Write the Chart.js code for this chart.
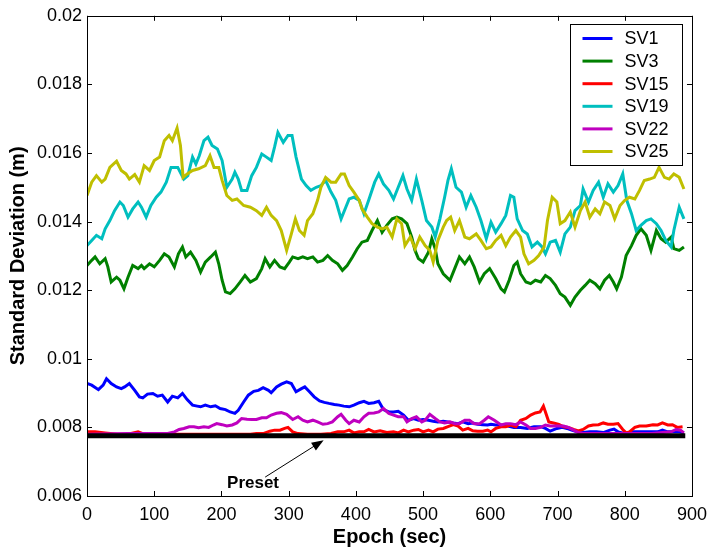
<!DOCTYPE html>
<html>
<head>
<meta charset="utf-8">
<title>Standard Deviation vs Epoch</title>
<script src="https://cdn.jsdelivr.net/npm/chart.js@4.4.1/dist/chart.umd.min.js"></script>
<style>
  html, body { margin: 0; padding: 0; background: #fff; }
  #wrap { width: 715px; height: 555px; position: relative; }
</style>
</head>
<body>
<div id="wrap"><canvas id="sdChart"></canvas></div>
<script>
// epochs (sec) and standard deviations (m)
const sv1T = [0,7,17,24,29,36,44,51,56,63,71,78,83,90,98,105,112,120,127,135,142,149,157,164,169,176,184,191,198,206,213,220,225,233,240,248,255,262,270,274,282,289,297,
  304,311,319,324,331,338,346,353,360,368,375,382,390,397,405,412,419,427,434,441,449,456,463,471,478,486,493,500,508,515,522,530,537,545,552,559,567,574,581,589,596,
  601,608,616,626,635,645,655,665,675,682,689,699,707,714,721,729,738,748,758,768,778,784,790,800,810,819,829,839,849,856,864,871,881,888];
const sv1 = [0.00928,0.00923,0.00910,0.00923,0.00942,0.00928,0.00918,0.00913,0.00918,0.00928,0.00908,0.00889,0.00886,0.00897,0.00899,0.00891,0.00894,0.00874,0.00891,0.00886,0.00899,0.00881,0.00865,0.00862,0.00860,0.00865,0.00860,0.00863,0.00855,0.00852,0.00845,0.00841,0.00850,0.00874,0.00894,0.00905,0.00908,0.00916,0.00908,0.00901,0.00918,0.00926,0.00933,
  0.00928,0.00904,0.00913,0.00918,0.00904,0.00889,0.00877,0.00873,0.00870,0.00867,0.00865,0.00862,0.00860,0.00865,0.00872,0.00876,0.00870,0.00872,0.00876,0.00852,0.00845,0.00845,0.00847,0.00836,0.00821,0.00826,0.00821,0.00823,0.00821,0.00818,0.00816,0.00818,0.00816,0.00813,0.00811,0.00816,0.00811,0.00813,0.00809,0.00808,0.00807,
  0.00809,0.00807,0.00807,0.00804,0.00800,0.00800,0.00797,0.00802,0.00802,0.00797,0.00789,0.00797,0.00800,0.00797,0.00792,0.00787,0.00785,0.00787,0.00787,0.00785,0.00792,0.00795,0.00787,0.00782,0.00787,0.00787,0.00787,0.00787,0.00787,0.00792,0.00787,0.00787,0.00787,0.00784];

const sv3T = [0,7,12,19,27,31,36,44,49,55,61,68,76,81,85,93,100,108,115,122,130,136,142,147,154,162,169,176,184,191,196,201,206,213,220,228,235,243,252,260,265,272,279,287,294,
  301,306,314,321,328,336,343,351,358,365,373,380,387,395,402,409,417,424,432,439,446,454,461,468,476,483,488,493,500,508,513,518,522,530,540,547,554,562,569,576,584,591,599,
  608,616,621,628,635,640,645,653,660,667,675,682,689,697,704,711,719,726,734,741,748,756,763,770,777,783,788,795,802,810,817,824,832,839,847,854,861,869,873,881,888];
const sv3 = [0.01272,0.01287,0.01297,0.01277,0.01292,0.01268,0.01224,0.01238,0.01229,0.01204,0.01238,0.01272,0.01263,0.01272,0.01263,0.01277,0.01268,0.01287,0.01306,0.01297,0.01268,0.01306,0.01326,0.01297,0.01311,0.01287,0.01253,0.01282,0.01297,0.01311,0.01277,0.01229,0.01195,0.01190,0.01204,0.01224,0.01243,0.01224,0.01234,0.01263,0.01292,0.01268,0.01287,0.01268,0.01263,
  0.01282,0.01297,0.01292,0.01297,0.01292,0.01297,0.01282,0.01287,0.01301,0.01287,0.01277,0.01258,0.01272,0.01297,0.01321,0.01340,0.01345,0.01374,0.01403,0.01369,0.01389,0.01408,0.01413,0.01408,0.01394,0.01355,0.01316,0.01292,0.01282,0.01311,0.01350,0.01321,0.01277,0.01248,0.01229,0.01263,0.01297,0.01277,0.01297,0.01268,0.01224,0.01248,0.01263,
  0.01234,0.01204,0.01195,0.01229,0.01272,0.01282,0.01248,0.01224,0.01219,0.01229,0.01224,0.01243,0.01234,0.01214,0.01190,0.01180,0.01156,0.01180,0.01200,0.01214,0.01229,0.01219,0.01204,0.01229,0.01243,0.01224,0.01204,0.01238,0.01301,0.01330,0.01360,0.01379,0.01360,0.01316,0.01374,0.01350,0.01340,0.01355,0.01321,0.01316,0.01326];

const sv15T = [0,12,27,46,61,76,83,95,120,144,169,193,218,243,252,262,272,279,287,294,299,
  306,314,328,348,363,373,382,390,397,405,412,419,427,436,446,456,463,471,478,486,493,500,508,515,522,530,537,545,552,559,567,574,581,589,596,
  601,608,616,623,630,638,645,653,660,667,674,679,682,687,694,702,709,716,724,731,738,746,753,761,768,775,783,790,797,802,807,815,822,832,842,849,856,864,871,878,886];
const sv15 = [0.00787,0.00787,0.00784,0.00780,0.00780,0.00787,0.00782,0.00780,0.00780,0.00780,0.00780,0.00780,0.00780,0.00780,0.00782,0.00782,0.00789,0.00792,0.00792,0.00797,0.00800,
  0.00787,0.00782,0.00780,0.00780,0.00782,0.00787,0.00787,0.00792,0.00784,0.00787,0.00787,0.00794,0.00787,0.00790,0.00785,0.00787,0.00784,0.00792,0.00787,0.00792,0.00794,0.00787,0.00792,0.00787,0.00795,0.00797,0.00802,0.00808,0.00804,0.00792,0.00797,0.00790,0.00789,0.00789,0.00792,
  0.00787,0.00797,0.00802,0.00802,0.00807,0.00802,0.00821,0.00826,0.00836,0.00842,0.00845,0.00862,0.00845,0.00816,0.00813,0.00809,0.00802,0.00800,0.00794,0.00790,0.00794,0.00804,0.00807,0.00808,0.00813,0.00809,0.00809,0.00811,0.00794,0.00784,0.00787,0.00800,0.00804,0.00804,0.00808,0.00807,0.00813,0.00807,0.00808,0.00800,0.00802];

const sv19T = [0,7,14,22,27,34,41,49,54,61,68,76,81,88,95,103,110,118,125,135,144,150,157,162,167,174,180,186,194,201,208,216,220,225,230,238,245,252,260,267,274,279,284,292,299,
  305,311,319,326,333,341,348,355,363,370,378,385,390,397,405,412,419,428,434,441,449,456,463,470,476,483,490,498,505,513,518,525,532,537,542,549,557,564,571,579,586,594,
  601,608,616,623,630,635,640,648,655,662,670,677,682,689,697,704,711,719,726,734,738,746,753,761,768,775,783,790,797,803,810,817,824,832,839,847,854,861,869,873,881,888];
const sv19 = [0.01330,0.01345,0.01360,0.01350,0.01379,0.01403,0.01432,0.01457,0.01447,0.01413,0.01437,0.01457,0.01442,0.01413,0.01447,0.01471,0.01486,0.01515,0.01558,0.01558,0.01524,0.01534,0.01588,0.01568,0.01592,0.01636,0.01646,0.01622,0.01612,0.01578,0.01500,0.01524,0.01544,0.01524,0.01491,0.01491,0.01534,0.01558,0.01597,0.01588,0.01578,0.01617,0.01660,0.01631,0.01651,
  0.01651,0.01588,0.01524,0.01505,0.01491,0.01500,0.01505,0.01520,0.01486,0.01462,0.01408,0.01442,0.01466,0.01471,0.01462,0.01423,0.01462,0.01515,0.01539,0.01510,0.01491,0.01466,0.01500,0.01534,0.01495,0.01462,0.01524,0.01462,0.01403,0.01384,0.01355,0.01408,0.01471,0.01520,0.01554,0.01500,0.01486,0.01442,0.01476,0.01442,0.01403,0.01350,
  0.01398,0.01369,0.01394,0.01418,0.01476,0.01471,0.01408,0.01374,0.01364,0.01326,0.01340,0.01326,0.01306,0.01340,0.01345,0.01311,0.01364,0.01384,0.01432,0.01447,0.01495,0.01457,0.01491,0.01515,0.01471,0.01510,0.01486,0.01505,0.01539,0.01462,0.01423,0.01374,0.01389,0.01403,0.01408,0.01394,0.01374,0.01345,0.01326,0.01374,0.01442,0.01408];

const sv22T = [0,61,120,130,137,144,152,159,166,174,181,188,193,201,208,216,223,230,238,245,252,260,267,274,282,289,297,
  306,314,321,328,336,343,351,358,365,373,378,385,390,397,405,412,419,427,434,441,449,456,463,471,476,483,490,498,503,510,518,525,532,540,547,554,562,569,576,584,591,597,
  606,616,623,630,638,645,653,660,667,675,682,689,699,709,716,724,731,738,760,800,840,869,876,883,888];
const sv22 = [0.00780,0.00782,0.00782,0.00787,0.00794,0.00797,0.00802,0.00802,0.00799,0.00802,0.00800,0.00807,0.00811,0.00808,0.00804,0.00807,0.00813,0.00826,0.00824,0.00823,0.00823,0.00828,0.00828,0.00836,0.00841,0.00843,0.00838,
  0.00823,0.00831,0.00821,0.00816,0.00821,0.00816,0.00809,0.00811,0.00816,0.00831,0.00838,0.00821,0.00811,0.00821,0.00816,0.00831,0.00841,0.00842,0.00845,0.00855,0.00841,0.00836,0.00831,0.00831,0.00816,0.00826,0.00831,0.00816,0.00821,0.00838,0.00826,0.00816,0.00813,0.00816,0.00811,0.00811,0.00821,0.00821,0.00811,0.00811,0.00821,0.00831,
  0.00821,0.00807,0.00811,0.00811,0.00808,0.00816,0.00807,0.00797,0.00797,0.00800,0.00807,0.00804,0.00804,0.00804,0.00800,0.00792,0.00785,0.00782,0.00782,0.00782,0.00782,0.00787,0.00794,0.00792,0.00784];

const sv25T = [0,7,14,22,27,34,44,51,58,63,71,78,85,93,100,108,115,122,127,134,139,143,149,157,166,176,183,189,196,201,208,216,223,233,243,252,260,267,274,282,289,297,
  304,310,316,323,328,336,343,348,355,363,370,378,383,390,397,405,409,417,424,432,439,446,454,461,468,473,481,488,495,503,510,515,522,530,535,541,547,554,562,569,579,586,594,
  601,608,616,623,630,638,645,650,657,665,672,680,685,692,699,704,711,719,726,734,741,748,756,763,770,778,785,793,800,807,815,822,829,837,844,851,859,866,873,881,888];
const sv25 = [0.01476,0.01515,0.01534,0.01515,0.01524,0.01558,0.01576,0.01549,0.01539,0.01524,0.01537,0.01515,0.01563,0.01549,0.01578,0.01588,0.01636,0.01651,0.01636,0.01673,0.01622,0.01529,0.01539,0.01549,0.01554,0.01563,0.01592,0.01558,0.01558,0.01520,0.01476,0.01462,0.01466,0.01447,0.01442,0.01432,0.01418,0.01442,0.01418,0.01403,0.01374,0.01316,
  0.01364,0.01408,0.01374,0.01360,0.01403,0.01423,0.01462,0.01500,0.01529,0.01515,0.01515,0.01539,0.01539,0.01505,0.01486,0.01462,0.01437,0.01413,0.01394,0.01384,0.01379,0.01384,0.01355,0.01408,0.01394,0.01330,0.01355,0.01321,0.01355,0.01330,0.01316,0.01282,0.01345,0.01384,0.01403,0.01413,0.01374,0.01403,0.01355,0.01350,0.01364,0.01345,0.01321,
  0.01326,0.01345,0.01360,0.01330,0.01355,0.01374,0.01355,0.01306,0.01277,0.01287,0.01301,0.01326,0.01403,0.01471,0.01457,0.01394,0.01403,0.01428,0.01384,0.01432,0.01457,0.01413,0.01437,0.01423,0.01457,0.01447,0.01408,0.01447,0.01462,0.01471,0.01466,0.01491,0.01520,0.01524,0.01529,0.01558,0.01529,0.01524,0.01539,0.01529,0.01495];

// preset threshold line
const presetT = [0, 890];
const preset = [0.00776, 0.00776];

const xTicks = [0, 100, 200, 300, 400, 500, 600, 700, 800, 900];
const yTicks = [0.006, 0.008, 0.01, 0.012, 0.014, 0.016, 0.018, 0.02];

const FONT = "'Liberation Sans', Arial, Helvetica, sans-serif";

function pts(ts, vs) {
  return ts.map((t, i) => ({ x: t, y: vs[i] }));
}

const series = [
  { label: "SV1", t: sv1T, v: sv1, color: "#0000ff" },
  { label: "SV3", t: sv3T, v: sv3, color: "#008000" },
  { label: "SV15", t: sv15T, v: sv15, color: "#ff0000" },
  { label: "SV19", t: sv19T, v: sv19, color: "#00bfbf" },
  { label: "SV22", t: sv22T, v: sv22, color: "#bf00bf" },
  { label: "SV25", t: sv25T, v: sv25, color: "#bfbf00" },
];

const datasets = series.map((s, i) => ({
  label: s.label,
  data: pts(s.t, s.v),
  borderColor: s.color,
  backgroundColor: s.color,
  borderWidth: 3,
  pointRadius: 0,
  tension: 0,
  order: 10 - i, // later series on top, like MATLAB
}));
datasets.push({
  label: "Preset",
  data: pts(presetT, preset),
  borderColor: "#000",
  borderWidth: 5,
  pointRadius: 0,
  order: 1,
});

// axes frame, inward ticks, legend box and the "Preset" arrow
const matlabLook = {
  id: "matlabLook",
  afterDatasetsDraw(chart) {
    const { ctx, chartArea: a } = chart;
    const x = chart.scales.x;
    const y = chart.scales.y;
    ctx.save();
    ctx.strokeStyle = "#000";
    ctx.lineWidth = 1;

    ctx.strokeRect(Math.round(a.left) + 0.5, Math.round(a.top) + 0.5,
      Math.round(a.right - a.left), Math.round(a.bottom - a.top));

    ctx.beginPath();
    xTicks.forEach((v) => {
      const px = Math.round(x.getPixelForValue(v)) + 0.5;
      ctx.moveTo(px, a.bottom); ctx.lineTo(px, a.bottom - 5);
      ctx.moveTo(px, a.top); ctx.lineTo(px, a.top + 5);
    });
    yTicks.forEach((v) => {
      const py = Math.round(y.getPixelForValue(v)) + 0.5;
      ctx.moveTo(a.left, py); ctx.lineTo(a.left + 5, py);
      ctx.moveTo(a.right, py); ctx.lineTo(a.right - 5, py);
    });
    ctx.stroke();

    // annotation
    const tx = x.getPixelForValue(265), ty = y.getPixelForValue(0.00655);
    const hx = x.getPixelForValue(352), hy = y.getPixelForValue(0.007628);
    const ang = Math.atan2(hy - ty, hx - tx);
    ctx.beginPath();
    ctx.moveTo(tx, ty);
    ctx.lineTo(hx - 10 * Math.cos(ang), hy - 10 * Math.sin(ang));
    ctx.stroke();
    ctx.beginPath();
    ctx.moveTo(hx, hy);
    ctx.lineTo(hx - 12 * Math.cos(ang) + 4.5 * Math.sin(ang), hy - 12 * Math.sin(ang) - 4.5 * Math.cos(ang));
    ctx.lineTo(hx - 12 * Math.cos(ang) - 4.5 * Math.sin(ang), hy - 12 * Math.sin(ang) + 4.5 * Math.cos(ang));
    ctx.closePath();
    ctx.fillStyle = "#000";
    ctx.fill();
    ctx.font = "bold 17px " + FONT;
    ctx.textAlign = "center";
    ctx.textBaseline = "middle";
    ctx.fillText("Preset", x.getPixelForValue(247), y.getPixelForValue(0.00637));

    // legend
    const lw = 112, lh = 141;
    const lx = Math.round(a.right) - 10 - lw + 0.5;
    const ly = Math.round(a.top) + 8 + 0.5;
    ctx.fillStyle = "#fff";
    ctx.fillRect(lx, ly, lw, lh);
    ctx.strokeRect(lx, ly, lw, lh);
    ctx.font = "18px " + FONT;
    ctx.textAlign = "left";
    series.forEach((s, i) => {
      const ry = ly + 14 + i * 22.6;
      ctx.strokeStyle = s.color;
      ctx.lineWidth = 3;
      ctx.beginPath();
      ctx.moveTo(lx + 12, ry);
      ctx.lineTo(lx + 42, ry);
      ctx.stroke();
      ctx.fillStyle = "#000";
      ctx.fillText(s.label, lx + 54, ry + 1);
    });
    ctx.restore();
  },
};

new Chart(document.getElementById("sdChart"), {
  type: "line",
  data: { datasets },
  options: {
    responsive: true,
    maintainAspectRatio: false,
    animation: false,
    layout: { padding: { left: 0, top: 15, right: 17, bottom: 0 } },
    plugins: {
      legend: { display: false },
      tooltip: { enabled: false },
    },
    scales: {
      x: {
        type: "linear",
        min: 0,
        max: 900,
        afterFit: (scale) => { scale.height = 59; },
        afterBuildTicks: (scale) => { scale.ticks = xTicks.map((v) => ({ value: v })); },
        grid: { display: false, drawTicks: false },
        border: { display: false },
        ticks: {
          color: "#000",
          padding: 8,
          maxRotation: 0,
          font: { family: FONT, size: 18 },
        },
        title: {
          display: true,
          text: "Epoch (sec)",
          color: "#000",
          padding: { top: 0, bottom: 6 },
          font: { family: FONT, size: 20, weight: "bold" },
        },
      },
      y: {
        type: "linear",
        min: 0.006,
        max: 0.02,
        afterFit: (scale) => { scale.width = 87; },
        afterBuildTicks: (scale) => { scale.ticks = yTicks.map((v) => ({ value: v })); },
        grid: { display: false, drawTicks: false },
        border: { display: false },
        ticks: {
          color: "#000",
          padding: 5,
          font: { family: FONT, size: 18 },
          callback: (v) => String(parseFloat(v.toFixed(4))),
        },
        title: {
          display: true,
          text: "Standard Deviation (m)",
          color: "#000",
          padding: { top: 6, bottom: 0 },
          font: { family: FONT, size: 20, weight: "bold" },
        },
      },
    },
  },
  plugins: [matlabLook],
});
</script>
</body>
</html>
